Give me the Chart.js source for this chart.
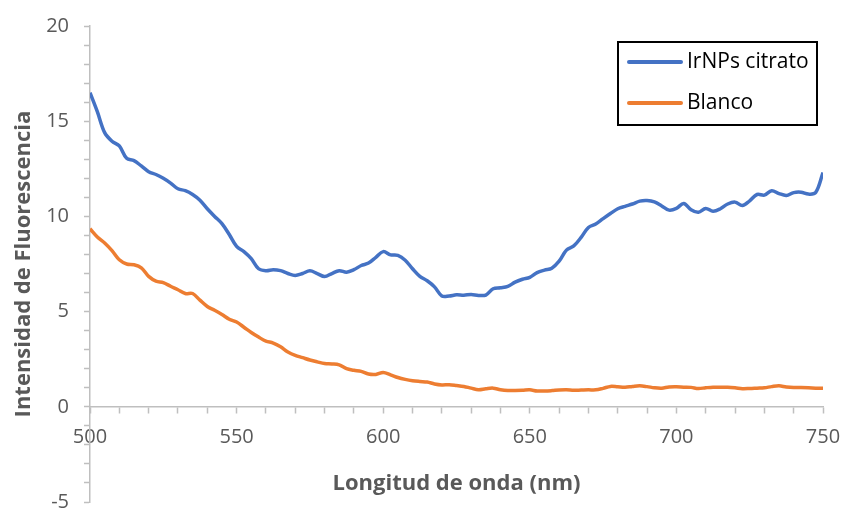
<!DOCTYPE html>
<html>
<head>
<meta charset="utf-8">
<script src="https://cdn.jsdelivr.net/npm/chart.js@4.4.1/dist/chart.umd.min.js"></script>
<style>
  html, body { margin: 0; padding: 0; background: #fff; }
  #wrap { width: 843px; height: 510px; }
</style>
</head>
<body>
<div id="wrap"><canvas id="myChart" width="843" height="510"></canvas></div>
<script>
// Emission spectra, 2.5 nm steps from 500 to 750 nm
const wavelengths = [];
for (let nm = 500; nm <= 750; nm += 2.5) wavelengths.push(nm);

const irnpsCitrato = [
    16.5, 15.5, 14.4, 13.95, 13.7, 13.05, 12.93, 12.65, 12.35, 12.2,
    12.0, 11.75, 11.45, 11.35, 11.15, 10.85, 10.4, 10.0, 9.62, 9.05,
    8.42, 8.15, 7.78, 7.25, 7.15, 7.2, 7.15, 7.0, 6.9, 7.0,
    7.14, 7.0, 6.84, 7.0, 7.15, 7.07, 7.2, 7.42, 7.55, 7.85,
    8.15, 7.98, 7.95, 7.7, 7.25, 6.85, 6.62, 6.3, 5.82, 5.82,
    5.88, 5.86, 5.9, 5.85, 5.87, 6.2, 6.25, 6.32, 6.55, 6.7,
    6.8, 7.05, 7.18, 7.28, 7.65, 8.23, 8.45, 8.9, 9.42, 9.6,
    9.88, 10.15, 10.4, 10.53, 10.65, 10.8, 10.83, 10.76, 10.55, 10.33,
    10.42, 10.68, 10.35, 10.22, 10.42, 10.27, 10.4, 10.65, 10.75, 10.57,
    10.82, 11.15, 11.12, 11.35, 11.2, 11.1, 11.25, 11.27, 11.17, 11.25,
    12.3
];

const blanco = [
    9.35, 8.92, 8.6, 8.2, 7.72, 7.5, 7.46, 7.3, 6.85, 6.6,
    6.52, 6.33, 6.15, 5.95, 5.95, 5.6, 5.27, 5.07, 4.85, 4.6,
    4.45, 4.18, 3.9, 3.66, 3.45, 3.35, 3.15, 2.88, 2.7, 2.58,
    2.46, 2.36, 2.27, 2.25, 2.2, 2.0, 1.92, 1.86, 1.72, 1.7,
    1.8, 1.68, 1.54, 1.44, 1.37, 1.33, 1.3, 1.2, 1.15, 1.16,
    1.12, 1.07, 0.98, 0.9, 0.95, 0.98, 0.9, 0.86, 0.86, 0.87,
    0.89, 0.83, 0.83, 0.85, 0.88, 0.89, 0.87, 0.88, 0.89, 0.89,
    0.97, 1.07, 1.05, 1.03, 1.07, 1.1, 1.06, 1.0, 0.98, 1.04,
    1.05, 1.03, 1.02, 0.96, 1.0, 1.03, 1.03, 1.03, 1.0, 0.95,
    0.96, 0.98, 1.0, 1.06, 1.1, 1.04, 1.01, 1.01, 1.0, 0.98,
    0.97
];

const seriesLabels = ['IrNPs citrato', 'Blanco'];
const seriesColors = ['#4472C4', '#ED7D31'];

const xMajor = 50;   // labelled every 50 nm, ticks every 10
const yMajor = 5;    // labelled every 5, ticks every 1

const axisGray = '#BFBFBF';
const labelGray = '#595959';
const fontFamily = "'Open Sans', sans-serif";

const toPoints = (values) => values.map((v, i) => ({ x: wavelengths[i], y: v }));

// Boxed legend in the top right corner of the plot
const boxedLegend = {
    id: 'boxedLegend',
    afterDraw(chart) {
        const { ctx, chartArea } = chart;
        const x = chartArea.right - 205;
        const y = chartArea.top + 16;
        const w = 199;
        const h = 83;
        ctx.save();
        ctx.strokeStyle = '#000';
        ctx.lineWidth = 2;
        ctx.strokeRect(x, y, w, h);
        ctx.font = '21px ' + fontFamily;
        ctx.textBaseline = 'middle';
        ctx.textAlign = 'left';
        chart.data.datasets.forEach((ds, i) => {
            const rowY = y + 20 + i * 41;
            ctx.strokeStyle = ds.borderColor;
            ctx.lineWidth = 4;
            ctx.lineCap = 'round';
            ctx.beginPath();
            ctx.moveTo(x + 11, rowY);
            ctx.lineTo(x + 63, rowY);
            ctx.stroke();
            ctx.fillStyle = '#000';
            ctx.fillText(ds.label, x + 69, rowY);
        });
        ctx.restore();
    }
};

new Chart(document.getElementById('myChart').getContext('2d'), {
    type: 'line',
    data: {
        datasets: seriesLabels.map((label, i) => ({
            label: label,
            data: toPoints(i === 0 ? irnpsCitrato : blanco),
            borderColor: seriesColors[i],
            backgroundColor: seriesColors[i],
            borderWidth: 3.5,
            pointRadius: 0,
            tension: 0.35,
            fill: false
        }))
    },
    options: {
        responsive: false,
        animation: false,
        layout: {
            padding: { top: 26, right: 20, bottom: 8, left: 0 }
        },
        plugins: {
            legend: { display: false },
            tooltip: { enabled: false }
        },
        scales: {
            x: {
                type: 'linear',
                position: { y: 0 },
                min: 500,
                max: 750,
                border: { display: true, color: axisGray, width: 1.5 },
                grid: {
                    drawOnChartArea: false,
                    drawTicks: true,
                    tickLength: 6,
                    tickColor: axisGray,
                    tickWidth: 1.5
                },
                ticks: {
                    stepSize: 10,
                    autoSkip: false,
                    maxRotation: 0,
                    padding: 12,
                    color: labelGray,
                    font: { family: fontFamily, size: 20 },
                    callback: (v) => (v % xMajor === 0 ? String(v) : '')
                },
                title: {
                    display: true,
                    text: 'Longitud de onda (nm)',
                    color: labelGray,
                    font: { family: fontFamily, size: 22, weight: 'bold' },
                    padding: { top: 10, bottom: 0 }
                },
                afterFit: (scale) => {
                    scale.paddingLeft = 0;
                    scale.paddingRight = 0;
                }
            },
            y: {
                type: 'linear',
                position: 'left',
                min: -5,
                max: 20,
                border: { display: true, color: axisGray, width: 1.5 },
                grid: {
                    drawOnChartArea: false,
                    drawTicks: true,
                    tickLength: 6,
                    tickColor: axisGray,
                    tickWidth: 1.5
                },
                ticks: {
                    stepSize: 1,
                    autoSkip: false,
                    padding: 15,
                    color: labelGray,
                    font: { family: fontFamily, size: 20 },
                    callback: (v) => (v % yMajor === 0 ? String(v) : '')
                },
                title: {
                    display: true,
                    text: 'Intensidad de Fluorescencia',
                    color: labelGray,
                    font: { family: fontFamily, size: 22, weight: 'bold' },
                    padding: { top: 11, bottom: 0 }
                },
                afterFit: (scale) => {
                    scale.width = 90;
                    scale.paddingTop = 0;
                    scale.paddingBottom = 0;
                }
            }
        }
    },
    plugins: [boxedLegend]
});
</script>
</body>
</html>
